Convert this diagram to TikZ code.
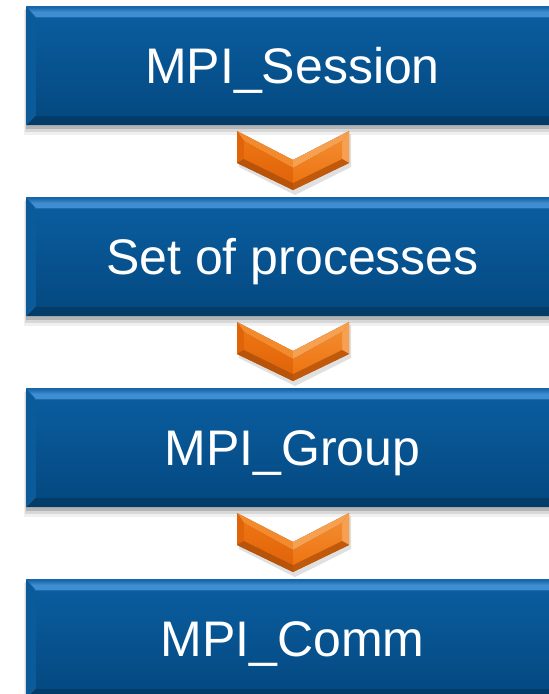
\documentclass[tikz,border=0pt]{standalone}
\usepackage{fontspec}
\setmainfont{Liberation Sans}
\begin{document}
\definecolor{faceTop}{HTML}{0A5C9E}
\definecolor{faceBot}{HTML}{044A82}
\definecolor{bevTop}{HTML}{3F8ED2}
\definecolor{bevTopDk}{HTML}{1766AA}
\definecolor{bevLeft}{HTML}{0B5A9A}
\definecolor{bevBot}{HTML}{033C68}
\definecolor{bevRight}{HTML}{08508A}
\definecolor{orFace}{HTML}{EE7412}
\definecolor{orFaceDk}{HTML}{E0640A}
\definecolor{orLight}{HTML}{F6A052}
\definecolor{orMid}{HTML}{F28A2E}
\definecolor{orDark}{HTML}{B8540A}
\tikzset{
  boxlabel/.style={text=white, font=\fontsize{50}{56}\selectfont, inner sep=0pt, anchor=base},
}
% bevelled blue box: #1 = top edge (px), #2 = node name, #3 = text
\newcommand{\bevbox}[3]{%
  \begin{scope}[yshift=-#1pt]
    % soft drop shadow
    \fill[black, opacity=0.06] (24,4) rectangle (562,129);
    \fill[black, opacity=0.10] (25,3) rectangle (561,126);
    \fill[black, opacity=0.16] (26,2) rectangle (560,123);
    % bevel facets
    \fill[bevTopDk] (26,0) -- (560,0) -- (550,12) -- (36,12) -- cycle;
    \shade[top color=bevTopDk, bottom color=bevTop, middle color=bevTop]
      (27,1) -- (559,1) -- (550,11) -- (36,11) -- cycle;
    \fill[bevLeft] (26,0) -- (36,12) -- (36,109) -- (26,119) -- cycle;
    \fill[bevRight] (560,0) -- (550,12) -- (550,109) -- (560,119) -- cycle;
    \fill[bevBot] (26,119) -- (36,109) -- (550,109) -- (560,119) -- cycle;
    % main face
    \shade[top color=faceTop, bottom color=faceBot] (36,12) rectangle (550,109);
    \node[boxlabel] (#2) at (292.5,77) {#3};
  \end{scope}}
% bevelled orange chevron: #1 = top edge (px)
\newcommand{\chevron}[1]{%
  \begin{scope}[yshift=-#1pt]
    % shadow
    \fill[black, opacity=0.12]
      (239,3) -- (295,32) -- (351,3) -- (351,36) -- (295,64) -- (239,36) -- cycle;
    % outer outline
    \fill[orDark] (237,0) -- (293,29) -- (349,0) -- (349,32) -- (293,59) -- (237,32) -- cycle;
    % facets
    \fill[orMid]   (237,0) -- (293,29) -- (293,37) -- (244,10) -- cycle;
    \fill[orLight] (293,29) -- (349,0) -- (342,10) -- (293,37) -- cycle;
    \fill[orLight] (349,0) -- (349,32) -- (342,28) -- (342,10) -- cycle;
    \fill[orFaceDk] (237,0) -- (244,10) -- (244,28) -- (237,32) -- cycle;
    \fill[orDark]  (237,32) -- (244,28) -- (293,52) -- (293,59) -- cycle;
    \fill[orDark!85!orFace] (293,59) -- (293,52) -- (342,28) -- (349,32) -- cycle;
    % faces
    \shade[top color=orFace, bottom color=orFaceDk]
      (244,10) -- (293,37) -- (293,52) -- (244,28) -- cycle;
    \shade[top color=orMid, bottom color=orFace]
      (293,37) -- (342,10) -- (342,28) -- (293,52) -- cycle;
  \end{scope}}
\begin{tikzpicture}[x=1pt, y=-1pt]
  \useasboundingbox (0,0) rectangle (549,694);
  \begin{scope}
    \clip (0,0) rectangle (549,694);
    \bevbox{6}{session}{MPI\_Session}
    \bevbox{197}{procs}{Set of processes}
    \bevbox{388}{group}{MPI\_Group}
    \bevbox{579}{comm}{MPI\_Comm}
    \chevron{131}
    \chevron{322}
    \chevron{513}
  \end{scope}
\end{tikzpicture}
\end{document}
